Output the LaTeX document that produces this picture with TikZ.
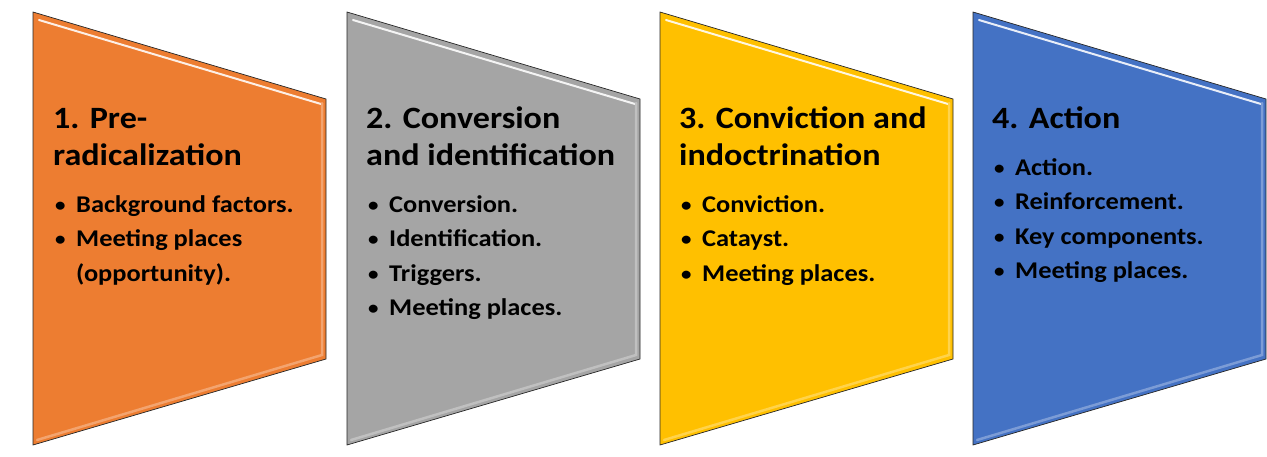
\documentclass[tikz,border=0pt]{standalone}
\usepackage{fontspec}
\setmainfont{Carlito}[FakeStretch=1.1]
\usepackage{xcolor}
\usetikzlibrary{positioning}

\definecolor{stageorange}{HTML}{ED7D31}
\definecolor{stagegray}{HTML}{A5A5A5}
\definecolor{stagegold}{HTML}{FFC000}
\definecolor{stageblue}{HTML}{4472C4}

\newcommand{\stagebul}{\makebox[23pt][l]{\hspace{2pt}\raisebox{1pt}{\fontsize{19}{19}\selectfont•}}}
\newcommand{\firstline}[1]{\rule{0pt}{#1}}

\begin{document}
\begin{tikzpicture}[
  x=1pt, y=-1pt,
  stage/.style={draw=black!85, line width=0.7pt},
  shine/.style={white!88!#1, line width=2pt, line cap=round},
  shade/.style={#1!70!white, line width=2.5pt, line cap=round},
  title/.style={anchor=north west, inner sep=0pt, align=left, font=\fontsize{31}{37}\selectfont\bfseries},
  items/.style={below right=25pt and 0pt of #1.base west, inner sep=0pt, align=left, font=\fontsize{24}{34.4}\selectfont\bfseries},
]
\useasboundingbox (0,0) rectangle (1267,456);

% Stage 1
\fill[stageorange] (33,12) -- (326,99) -- (326,359) -- (33,445) -- cycle;
\draw[shine=stageorange] (39,20) -- (321,104);
\draw[shade=stageorange] (37,440) -- (322,355) -- (322,103);
\draw[stage] (33,12) -- (326,99) -- (326,359) -- (33,445) -- cycle;
\node[title] (t1) at (53,102) {\firstline{26pt}1. Pre-\\radicalization};
\node[items=t1] (b1) {\firstline{22pt}\stagebul Background factors.\\\stagebul Meeting places\\\hspace*{23pt}(opportunity).};

% Stage 2
\fill[stagegray] (347,12) -- (640,99) -- (640,359) -- (347,445) -- cycle;
\draw[shine=stagegray] (353,20) -- (635,104);
\draw[shade=stagegray] (351,440) -- (636,355) -- (636,103);
\draw[stage] (347,12) -- (640,99) -- (640,359) -- (347,445) -- cycle;
\node[title] (t2) at (366,102) {\firstline{26pt}2. Conversion\\and identification};
\node[items=t2] (b2) {\firstline{22pt}\stagebul Conversion.\\\stagebul Identification.\\\stagebul Triggers.\\\stagebul Meeting places.};

% Stage 3
\fill[stagegold] (660,12) -- (953,99) -- (953,359) -- (660,445) -- cycle;
\draw[shine=stagegold] (666,20) -- (948,104);
\draw[shade=stagegold] (664,440) -- (949,355) -- (949,103);
\draw[stage] (660,12) -- (953,99) -- (953,359) -- (660,445) -- cycle;
\node[title] (t3) at (679,102) {\firstline{26pt}3. Conviction and\\indoctrination};
\node[items=t3] (b3) {\firstline{22pt}\stagebul Conviction.\\\stagebul Catayst.\\\stagebul Meeting places.};

% Stage 4
\fill[stageblue] (973,12) -- (1266,99) -- (1266,359) -- (973,445) -- cycle;
\draw[shine=stageblue] (979,20) -- (1261,104);
\draw[shade=stageblue] (977,440) -- (1262,355) -- (1262,103);
\draw[stage] (973,12) -- (1266,99) -- (1266,359) -- (973,445) -- cycle;
\node[title] (t4) at (992,102) {\firstline{26pt}4. Action};
\node[items=t4] (b4) {\firstline{22pt}\stagebul Action.\\\stagebul Reinforcement.\\\stagebul Key components.\\\stagebul Meeting places.};
\end{tikzpicture}
\end{document}
